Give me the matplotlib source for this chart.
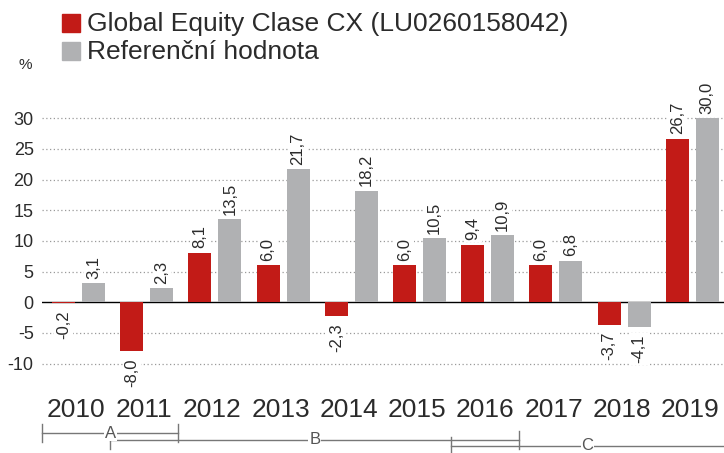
import matplotlib.pyplot as plt
import matplotlib.transforms as mtransforms
from matplotlib.patches import Rectangle
import numpy as np

plt.rcParams['font.family'] = ['Liberation Sans', 'DejaVu Sans']
plt.rcParams['axes.unicode_minus'] = False

years = ['2010', '2011', '2012', '2013', '2014', '2015', '2016', '2017', '2018', '2019']
fund = [-0.2, -8.0, 8.1, 6.0, -2.3, 6.0, 9.4, 6.0, -3.7, 26.7]
bench = [3.1, 2.3, 13.5, 21.7, 18.2, 10.5, 10.9, 6.8, -4.1, 30.0]
series_names = ['Global Equity Clase CX (LU0260158042)', 'Referenční hodnota']
yticks = [-10, -5, 0, 5, 10, 15, 20, 25, 30]
# periods shown under the axis: (label, first group, last group edge)
periods = [('A', 0, 2), ('B', 1, 7), ('C', 6, 10.5)]

red = '#c21b17'
grey = '#b0b1b3'
txt = '#2b2b2b'

fig = plt.figure(figsize=(7.24, 4.53), dpi=100)
ax = fig.add_axes((42 / 724, 71 / 453, 682 / 724, 276 / 453))

x = np.arange(len(years))
w = 0.337
b1 = ax.bar(x + 0.315, fund, w, color=red, zorder=2)
b2 = ax.bar(x + 0.755, bench, w, color=grey, zorder=2)

for bars, vals in ((b1, fund), (b2, bench)):
    for r, v in zip(bars, vals):
        cx = r.get_x() + r.get_width() / 2
        lab = f'{v:.1f}'.replace('.', ',')
        if v >= 0:
            ax.annotate(lab, (cx, v), xytext=(0, 3), textcoords='offset points',
                        rotation=90, ha='center', va='bottom', fontsize=12, color=txt,
                        bbox=dict(boxstyle='square,pad=0.1', fc='white', ec='none'), zorder=3)
        else:
            ax.annotate(lab, (cx, v), xytext=(0, -5), textcoords='offset points',
                        rotation=90, ha='center', va='top', fontsize=12, color=txt,
                        bbox=dict(boxstyle='square,pad=0.1', fc='white', ec='none'), zorder=3)

for t in yticks:
    if t == 0:
        ax.axhline(0, color='black', lw=1.0, zorder=1.5)
    else:
        ax.axhline(t, color='#9a9a9a', lw=0.9, ls=(0, (1, 2)), zorder=1)

ax.set_xlim(0, 10)
ax.set_ylim(-13, 32)
ax.set_yticks(yticks)
ax.tick_params(axis='y', length=0, pad=6, labelsize=13, labelcolor=txt)
ax.set_xticks([])
for s in ax.spines.values():
    s.set_visible(False)

trans = mtransforms.blended_transform_factory(ax.transData, fig.transFigure)
for i, y in enumerate(years):
    ax.text(i + 0.5, 1 - 410 / 453, y, transform=trans, ha='center', va='center',
            fontsize=19, color=txt)

bracket_y = [433, 440, 446]
for (lab, x0, x1), py in zip(periods, bracket_y):
    fy = 1 - py / 453
    d = 9 / 453
    ax.plot([x0, x1], [fy, fy], transform=trans, color='#777777', lw=1, clip_on=False)
    ax.plot([x0, x0], [fy - d, fy + d], transform=trans, color='#777777', lw=1, clip_on=False)
    if x1 <= 10:
        ax.plot([x1, x1], [fy - d, fy + d], transform=trans, color='#777777', lw=1, clip_on=False)
    ax.text((x0 + min(x1, 10)) / 2 if lab != 'C' else 8, fy, lab, transform=trans,
            ha='center', va='center', fontsize=12, color='#555555',
            bbox=dict(boxstyle='square,pad=0.05', fc='white', ec='none'))

# legend
for k, (name, col) in enumerate(zip(series_names, (red, grey))):
    top = 14 + 28 * k
    fig.patches.append(Rectangle((62 / 724, 1 - (top + 18) / 453), 18 / 724, 18 / 453,
                                 transform=fig.transFigure, color=col))
    fig.text(87 / 724, 1 - (top + 10) / 453, name, ha='left', va='center',
             fontsize=19, color=txt)
fig.text(25 / 724, 1 - 65 / 453, '%', ha='center', va='center', fontsize=11, color=txt)

fig.savefig('out.png', dpi=100)
